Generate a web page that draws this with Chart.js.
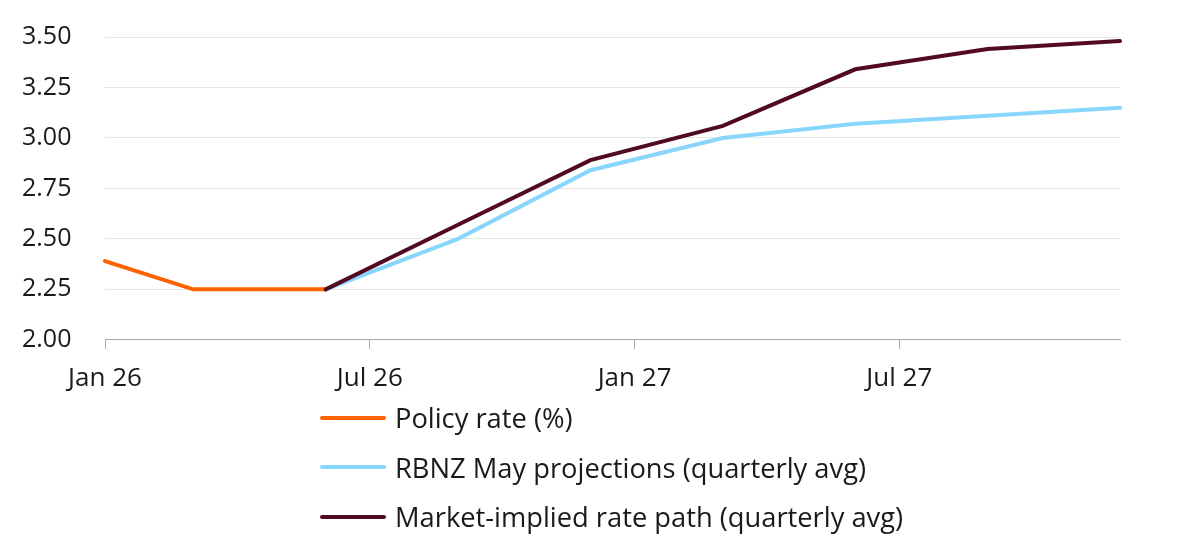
<!DOCTYPE html>
<html>
<head>
<meta charset="utf-8">
<script src="https://cdn.jsdelivr.net/npm/chart.js@4.4.1/dist/chart.umd.min.js"></script>
<style>
  html, body { margin: 0; padding: 0; background: #fff; }
  body { width: 1200px; height: 552px; position: relative; overflow: hidden; font-family: "Open Sans", Lato, sans-serif; color: #1a1a1a; }
  #wrap { position: absolute; left: 0; top: 0; width: 1200px; height: 414px; }
  #legend { position: absolute; left: 320px; top: 393px; }
  .item { display: flex; align-items: center; height: 49.5px; font-size: 27.3px; }
  .swatch { width: 66px; height: 4px; border-radius: 2px; margin-right: 9px; }
</style>
</head>
<body>
<div id="wrap"><canvas id="rateChart"></canvas></div>
<div id="legend"></div>
<script>
// monthly categories, Jan 26 .. Dec 27
const months = ['Jan 26', 'Feb 26', 'Mar 26', 'Apr 26', 'May 26', 'Jun 26',
    'Jul 26', 'Aug 26', 'Sep 26', 'Oct 26', 'Nov 26', 'Dec 26',
    'Jan 27', 'Feb 27', 'Mar 27', 'Apr 27', 'May 27', 'Jun 27',
    'Jul 27', 'Aug 27', 'Sep 27', 'Oct 27', 'Nov 27', 'Dec 27'];
const shownTicks = ['Jan 26', 'Jul 26', 'Jan 27', 'Jul 27'];

const policyRate = [2.39, null, 2.25, null, null, 2.25,
    null, null, null, null, null, null,
    null, null, null, null, null, null,
    null, null, null, null, null, null];
const rbnzMay = [null, null, null, null, null, 2.25,
    null, null, 2.50, null, null, 2.84,
    null, null, 3.00, null, null, 3.07,
    null, null, 3.11, null, null, 3.15];
const marketPath = [null, null, null, null, null, 2.25,
    null, null, 2.57, null, null, 2.89,
    null, null, 3.06, null, null, 3.34,
    null, null, 3.44, null, null, 3.48];

const seriesNames = ['Policy rate (%)', 'RBNZ May projections (quarterly avg)', 'Market-implied rate path (quarterly avg)'];
const seriesColors = ['#ff6200', '#89d6fd', '#520a23'];

const fam = '"Open Sans", Lato, sans-serif';

new Chart(document.getElementById('rateChart'), {
    type: 'line',
    data: {
        labels: months,
        datasets: [marketPath, rbnzMay, policyRate].map((d, i) => ({
            label: seriesNames[2 - i],
            data: d,
            borderColor: seriesColors[2 - i],
            borderWidth: 4,
            pointRadius: 0,
            tension: 0,
            spanGaps: true,
            borderCapStyle: 'round'
        }))
    },
    options: {
        responsive: true,
        maintainAspectRatio: false,
        animation: false,
        layout: { padding: { left: 22, right: 80, top: 37, bottom: 6 } },
        plugins: { legend: { display: false }, tooltip: { enabled: false } },
        scales: {
            x: {
                offset: false,
                grid: { display: true, drawOnChartArea: false, drawTicks: true, tickLength: 9, color: '#aaaaaa' },
                border: { display: true, color: '#aaaaaa', width: 1 },
                ticks: {
                    autoSkip: false, maxRotation: 0, padding: 14, color: '#1a1a1a',
                    font: { family: fam, size: 26 },
                    callback: function (v) {
                        const lab = this.getLabelForValue(v);
                        return shownTicks.includes(lab) ? lab : null;
                    }
                }
            },
            y: {
                min: 2, max: 3.5,
                afterFit: s => { s.width = 83; },
                border: { display: false },
                grid: { color: '#e6e6e6', drawTicks: false },
                ticks: { stepSize: 0.25, crossAlign: 'far', padding: 0, color: '#1a1a1a',
                    font: { family: fam, size: 25 },
                    callback: v => Number(v).toFixed(2) }
            }
        }
    }
});

const legend = document.getElementById('legend');
seriesNames.forEach((name, i) => {
    const row = document.createElement('div');
    row.className = 'item';
    row.innerHTML = '<span class="swatch" style="background:' + seriesColors[i] + '"></span><span>' + name + '</span>';
    legend.appendChild(row);
});
</script>
</body>
</html>
